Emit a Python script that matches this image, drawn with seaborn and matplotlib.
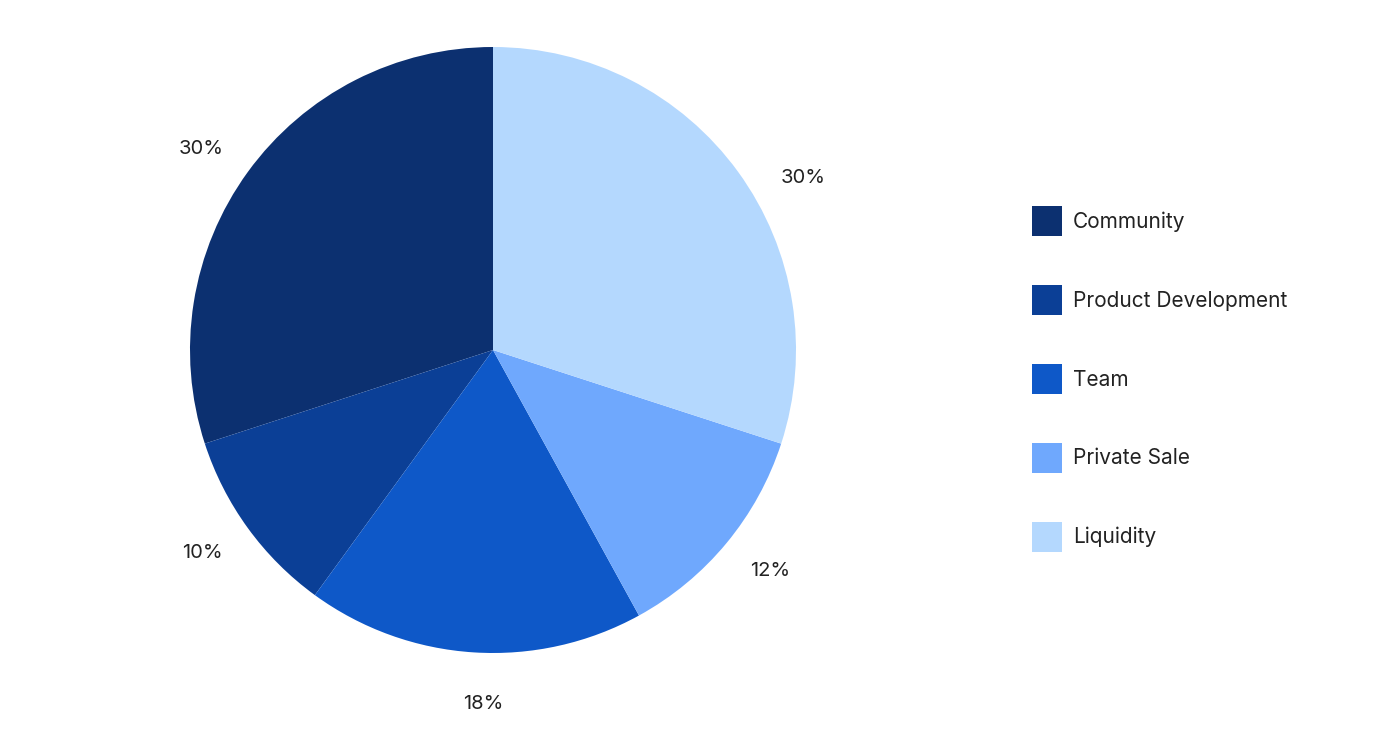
import matplotlib
matplotlib.use("Agg")
import matplotlib.pyplot as plt
import seaborn as sns
import numpy as np
from matplotlib.patches import Patch

categories = ["Community", "Product Development", "Team", "Private Sale", "Liquidity"]
values = [30, 10, 18, 12, 30]
colors = ["#0c3070", "#0b3f96", "#0e58c8", "#6fa8fd", "#b4d8fe"]

sns.set_theme(style="white")
plt.rcParams['font.family'] = ['Inter', 'DejaVu Sans']

fig = plt.figure(figsize=(14, 7.5), dpi=100)
fig.patch.set_facecolor("white")
ax = fig.add_axes([190/1400, 97/750, 606/1400, 606/750])
palette = sns.color_palette(colors)
wedges, texts = ax.pie(values, colors=palette, startangle=90, counterclock=True,
                       labels=[f"{v}%" for v in values], labeldistance=1.17,
                       radius=1, wedgeprops=dict(linewidth=0),
                       textprops=dict(fontsize=14.5, color="#222222"))
# label placement tweaks (angle shift in degrees) to mirror the reference
angle_shift = [1.5, -1, 2, 1, -7]
for w, t, s in zip(wedges, texts, angle_shift):
    ang = np.deg2rad((w.theta1 + w.theta2) / 2 + s)
    t.set_position((1.17 * np.cos(ang), 1.17 * np.sin(ang)))
    t.set_ha("center")
    t.set_va("center")
ax.set_xlim(-1, 1)
ax.set_ylim(-1, 1)
ax.set_aspect("equal")
ax.axis("off")

handles = [Patch(facecolor=c, edgecolor="none", label=l) for c, l in zip(palette, categories)]
fig.legend(handles=handles, loc="center left", bbox_to_anchor=(1032/1400, 1 - 379/750),
           frameon=False, fontsize=15, handlelength=1.44, handleheight=1.84,
           handletextpad=0.53, labelspacing=2.34, borderpad=0, borderaxespad=0,
           labelcolor="#222222")

fig.savefig("out.png", dpi=100, facecolor="white")
